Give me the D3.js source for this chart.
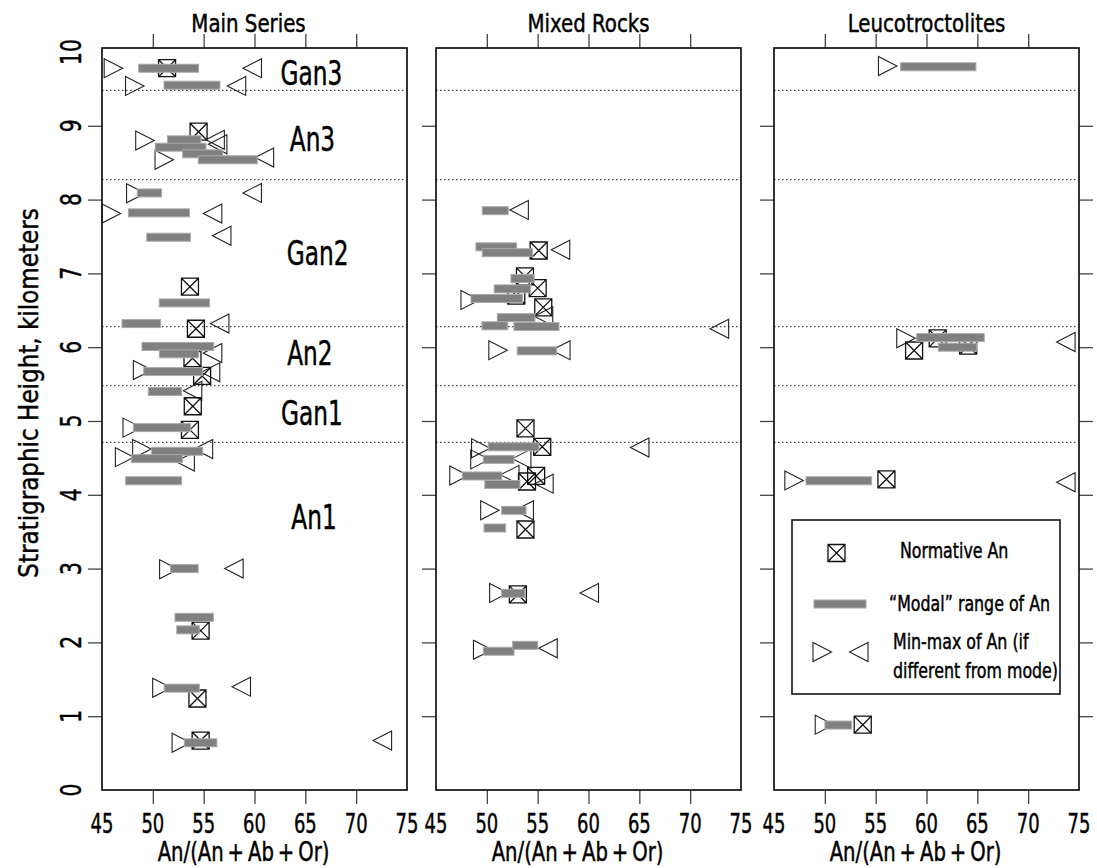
<!DOCTYPE html>
<html>
<head>
<meta charset="utf-8">
<script src="https://cdn.jsdelivr.net/npm/d3@7"></script>
<style>
    body { margin: 0; background: #fff; }
    text { font-family: "DejaVu Sans Condensed", "DejaVu Sans", sans-serif; font-stretch: condensed; fill: #000;
           stroke: #000; stroke-width: 0.45px; }
</style>
</head>
<body>
<div id="chart"></div>
<script>
const panelNames = ["Main Series", "Mixed Rocks", "Leucotroctolites"];
const xTickValues = [45, 50, 55, 60, 65, 70, 75];
const yTickValues = [0, 1, 2, 3, 4, 5, 6, 7, 8, 9, 10];
const boundaryHeights = [9.48, 8.27, 6.28, 5.48, 4.71];
const zoneNames = ["Gan3", "An3", "Gan2", "An2", "Gan1", "An1"];
const zoneAn = [65.6, 65.7, 66.2, 65.45, 65.65, 65.85];
const zoneHeights = [9.72, 8.83, 7.28, 5.92, 5.11, 3.70];

// [An, height]
const mainNormative = [[51.4, 9.78], [54.5, 8.92], [53.65, 6.82], [54.24, 6.25], [53.9, 5.85], [54.85, 5.61],
    [53.93, 5.20], [53.65, 4.88], [54.7, 2.16], [54.39, 1.24], [54.7, 0.67]];
// [An from, An to, height]
const mainModal = [[48.6, 54.5, 9.78], [51.1, 56.6, 9.55], [51.45, 54.73, 8.81], [50.24, 55.23, 8.71],
    [52.93, 56.87, 8.62], [54.47, 60.27, 8.54], [48.47, 50.86, 8.09], [47.6, 53.6, 7.82], [49.4, 53.7, 7.49],
    [50.63, 55.58, 6.60], [46.97, 50.77, 6.32], [48.93, 55.98, 6.01], [50.64, 54.5, 5.91], [49.1, 54.9, 5.67],
    [49.55, 52.83, 5.40], [48.08, 53.72, 4.91], [49.88, 54.9, 4.59], [47.9, 52.9, 4.49], [47.33, 52.83, 4.19],
    [51.74, 54.46, 3.00], [52.18, 55.95, 2.34], [52.35, 54.57, 2.17], [51.12, 54.57, 1.38], [53.1, 56.3, 0.64]];
const mainMin = [[46.1, 9.78], [48.2, 9.54], [49.2, 8.80], [51.1, 8.54], [48.3, 8.085], [45.9, 7.81], [48.97, 5.69],
    [47.95, 4.91], [48.9, 4.62], [47.2, 4.51], [51.55, 2.99], [50.87, 1.385], [52.78, 0.64]];
const mainMax = [[59.8, 9.78], [58.25, 9.54], [56.15, 8.81], [56.4, 8.75], [61.0, 8.57], [59.8, 8.09], [55.9, 7.81],
    [56.8, 7.51], [56.6, 6.32], [55.9, 5.92], [55.7, 5.66], [53.93, 5.41], [55.0, 4.62], [53.2, 4.45], [58.0, 3.0],
    [58.72, 1.40], [72.6, 0.67]];

const mixedNormative = [[55.1, 7.31], [53.75, 6.96], [55.0, 6.80], [52.9, 6.70], [55.55, 6.54], [53.8, 4.90],
    [55.45, 4.65], [54.85, 4.255], [53.95, 4.18], [53.8, 3.53], [53.05, 2.65]];
const mixedModal = [[49.55, 52.1, 7.85], [48.93, 52.93, 7.36], [49.55, 54.5, 7.28], [52.37, 54.64, 6.93],
    [50.73, 54.31, 6.79], [48.44, 53.52, 6.66], [51.03, 54.73, 6.40], [49.52, 52.05, 6.29], [52.67, 57.1, 6.28],
    [52.99, 56.87, 5.95], [50.14, 55.13, 4.65], [49.65, 52.67, 4.48], [47.59, 51.46, 4.255], [49.8, 53.26, 4.14],
    [51.46, 53.85, 3.79], [49.72, 51.85, 3.55], [51.46, 53.75, 2.665], [49.65, 52.67, 1.88], [52.54, 55.0, 1.96]];
const mixedMin = [[48.34, 6.64], [51.08, 5.96], [49.38, 4.63], [49.3, 4.48], [47.24, 4.26], [50.28, 3.79],
    [51.16, 2.67], [49.57, 1.90]];
const mixedMax = [[53.2, 7.86], [57.27, 7.32], [55.6, 6.42], [72.9, 6.25], [57.3, 5.96], [65.06, 4.64],
    [53.45, 4.49], [52.28, 4.27], [55.64, 4.15], [53.7, 3.79], [60.1, 2.67], [56.04, 1.92]];

const leucoNormative = [[61.1, 6.12], [58.78, 5.955], [64.1, 6.02], [56.06, 4.21], [53.73, 0.885]];
const leucoModal = [[57.46, 64.86, 9.80], [59.03, 65.68, 6.13], [61.16, 64.93, 6.00], [48.15, 54.6, 4.19],
    [50.01, 52.64, 0.88]];
const leucoMin = [[56.16, 9.81], [57.96, 6.12], [46.95, 4.195], [49.94, 0.885]];
const leucoMax = [[73.73, 6.07], [73.73, 4.17]];

const legendLabels = ["Normative An", "\u201CModal\u201D range of An", "Min-max of An (if", "different from mode)"];

let panels = [
    {normative: mainNormative, modal: mainModal, min: mainMin, max: mainMax},
    {normative: mixedNormative, modal: mixedModal, min: mixedMin, max: mixedMax},
    {normative: leucoNormative, modal: leucoModal, min: leucoMin, max: leucoMax}
];

let width = 1097, height = 868;
let panelLeft = [102, 436, 774], panelWidth = 305;
let plotTop = 48, plotBottom = 790;

let svg = d3.select("#chart")
    .append("svg")
    .attr("width", width)
    .attr("height", height);

let y = d3.scaleLinear().domain([0, 10.054]).range([plotBottom, plotTop]);

const boxPath = "M-8.5,-8.5h17v17h-17Z M-8.5,-8.5L8.5,8.5 M8.5,-8.5L-8.5,8.5";
const rightTri = "M-9,-9.5L9.5,0L-9,9.5Z";
const leftTri = "M9,-9.5L-9.5,0L9,9.5Z";

// the original uses a tall condensed face, so texts get squeezed horizontally
function placeText(px, py, sx, rot) {
    return "translate(" + px + "," + py + ")" + (rot ? " rotate(-90)" : "") + " scale(" + sx + ",1)";
}

function styleTicks(a) {
    a.select(".domain").remove();
    a.selectAll("line").attr("stroke", "#444").attr("stroke-width", 1.3);
}

function drawPanel(i) {
    let left = panelLeft[i];
    let data = panels[i];
    let x = d3.scaleLinear().domain([45, 75]).range([left, left + panelWidth]);
    let g = svg.append("g").attr("class", "panel");

    // boundaries between zones
    g.selectAll(".boundary")
        .data(boundaryHeights)
        .enter().append("line")
        .attr("class", "boundary")
        .attr("x1", left)
        .attr("x2", left + panelWidth)
        .attr("y1", function(d) { return y(d); })
        .attr("y2", function(d) { return y(d); })
        .attr("stroke", "#444")
        .attr("stroke-width", 1.2)
        .attr("stroke-dasharray", "1.5,2.5");

    // top and bottom ticks
    g.append("g")
        .attr("transform", "translate(0," + plotBottom + ")")
        .call(d3.axisBottom(x).tickValues(xTickValues.slice(1, -1)).tickSize(14).tickFormat(""))
        .call(styleTicks);

    g.selectAll(".xlabel")
        .data(xTickValues)
        .enter().append("text")
        .attr("class", "xlabel")
        .attr("transform", function(d) { return placeText(x(d), 833, 0.74, false); })
        .attr("text-anchor", "middle")
        .attr("font-size", 27)
        .text(function(d) { return d; });

    g.append("g")
        .attr("transform", "translate(0," + plotTop + ")")
        .call(d3.axisTop(x).tickValues(xTickValues.slice(1, -1)).tickSize(14).tickFormat(""))
        .call(styleTicks);

    g.append("g")
        .attr("transform", "translate(" + left + ",0)")
        .call(d3.axisLeft(y).tickValues(yTickValues.slice(1, -1)).tickSize(14).tickFormat(""))
        .call(styleTicks);

    if (i === 2) {
        g.append("g")
            .attr("transform", "translate(" + (left + panelWidth) + ",0)")
            .call(d3.axisRight(y).tickValues(yTickValues.slice(1, -1)).tickSize(14).tickFormat(""))
            .call(styleTicks);
    }

    // normative An
    g.selectAll(".normative")
        .data(data.normative)
        .enter().append("path")
        .attr("class", "normative")
        .attr("d", boxPath)
        .attr("transform", function(d) { return "translate(" + x(d[0]) + "," + y(d[1]) + ")"; })
        .attr("fill", "none")
        .attr("stroke", "#111")
        .attr("stroke-width", 1.3);

    g.selectAll(".min")
        .data(data.min)
        .enter().append("path")
        .attr("class", "min")
        .attr("d", rightTri)
        .attr("transform", function(d) { return "translate(" + x(d[0]) + "," + y(d[1]) + ")"; })
        .attr("fill", "none")
        .attr("stroke", "#222")
        .attr("stroke-width", 1.1);

    g.selectAll(".max")
        .data(data.max)
        .enter().append("path")
        .attr("class", "max")
        .attr("d", leftTri)
        .attr("transform", function(d) { return "translate(" + x(d[0]) + "," + y(d[1]) + ")"; })
        .attr("fill", "none")
        .attr("stroke", "#222")
        .attr("stroke-width", 1.1);

    // modal ranges
    g.selectAll(".modal")
        .data(data.modal)
        .enter().append("rect")
        .attr("class", "modal")
        .attr("x", function(d) { return x(d[0]); })
        .attr("y", function(d) { return y(d[2]) - 4; })
        .attr("width", function(d) { return x(d[1]) - x(d[0]); })
        .attr("height", 8)
        .attr("fill", "#808080")
        .attr("stroke", "#aaa")
        .attr("stroke-width", 1);

    g.append("rect")
        .attr("x", left)
        .attr("y", plotTop)
        .attr("width", panelWidth)
        .attr("height", plotBottom - plotTop)
        .attr("fill", "none")
        .attr("stroke", "#111")
        .attr("stroke-width", 1.7);

    g.append("text")
        .attr("transform", placeText(left + panelWidth / 2 - (i === 0 ? 6 : 0), 32, 0.88, false))
        .attr("text-anchor", "middle")
        .attr("font-size", 25)
        .text(panelNames[i]);

    g.append("text")
        .attr("transform", placeText(left + panelWidth / 2 - 11, 861, 0.84, false))
        .attr("text-anchor", "middle")
        .attr("font-size", 26)
        .text("An/(An\u2009+\u2009Ab\u2009+\u2009Or)");

    if (i === 0) {
        g.selectAll(".zone")
            .data(zoneNames)
            .enter().append("text")
            .attr("class", "zone")
            .attr("transform", function(d, k) { return placeText(x(zoneAn[k]), y(zoneHeights[k]), 0.76, false); })
            .attr("dy", "0.36em")
            .attr("text-anchor", "middle")
            .attr("font-size", 34)
            .text(function(d) { return d; });

        g.selectAll(".ylabel")
            .data(yTickValues)
            .enter().append("text")
            .attr("class", "ylabel")
            .attr("transform", function(d) { return placeText(left - 31, y(d), 0.78, true); })
            .attr("dy", "0.36em")
            .attr("text-anchor", "middle")
            .attr("font-size", 29)
            .text(function(d) { return d; });
    }
}

function drawLegend() {
    let lg = svg.append("g").attr("class", "legend");
    lg.append("rect")
        .attr("x", 792).attr("y", 520)
        .attr("width", 268).attr("height", 174)
        .attr("fill", "#fff")
        .attr("stroke", "#222")
        .attr("stroke-width", 1.7);
    lg.append("path").attr("d", boxPath)
        .attr("transform", "translate(836.5,553)")
        .attr("fill", "none").attr("stroke", "#111").attr("stroke-width", 1.3);
    lg.append("rect")
        .attr("x", 814).attr("y", 600).attr("width", 52).attr("height", 8)
        .attr("fill", "#808080").attr("stroke", "#aaa");
    lg.append("path").attr("d", rightTri)
        .attr("transform", "translate(822,652)")
        .attr("fill", "none").attr("stroke", "#222").attr("stroke-width", 1.1);
    lg.append("path").attr("d", leftTri)
        .attr("transform", "translate(859,652)")
        .attr("fill", "none").attr("stroke", "#222").attr("stroke-width", 1.1);

    let pos = [[900, 558], [889, 611], [893, 649], [893, 678]];
    lg.selectAll(".legtext")
        .data(legendLabels)
        .enter().append("text")
        .attr("class", "legtext")
        .attr("transform", function(d, k) { return placeText(pos[k][0], pos[k][1], 0.8, false); })
        .attr("font-size", 22)
        .text(function(d) { return d; });
}

for (let i = 0; i < 3; i++) {
    drawPanel(i);
}
drawLegend();

svg.append("text")
    .attr("transform", placeText(28, 393, 0.95, true))
    .attr("dy", "0.36em")
    .attr("text-anchor", "middle")
    .attr("font-size", 27)
    .text("Stratigraphic Height, kilometers");
</script>
</body>
</html>
